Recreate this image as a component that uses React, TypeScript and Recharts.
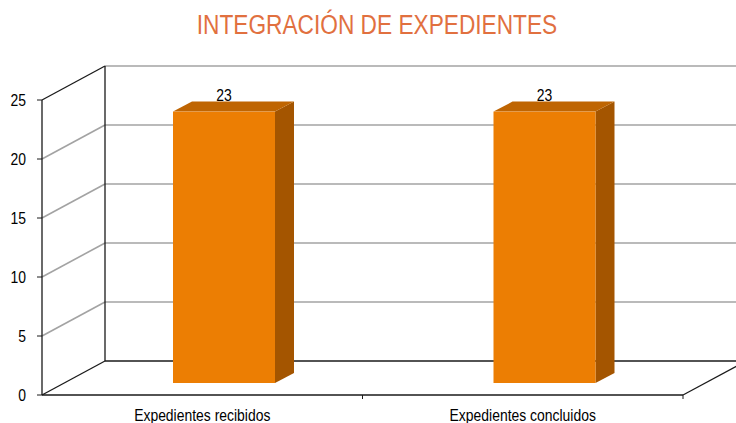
import React from 'react';
import { BarChart, Bar, XAxis, YAxis, CartesianGrid, LabelList } from 'recharts';

const categories = ['Expedientes recibidos', 'Expedientes concluidos'];
const values = [23, 23];
const yTicks = [0, 5, 10, 15, 20, 25];
const title = 'INTEGRACIÓN DE EXPEDIENTES';

const data = categories.map((c, i) => ({ name: c, value: values[i] }));

const W = 736;
const H = 423;
const DX = 63;
const DY = 34;
const BAR_OX = 22;
const BAR_OY = 12;
const BAR_DX = 19;
const BAR_DY = 10;
const FONT = "'Liberation Sans', Arial, sans-serif";
const NARROW_SCALE = 0.82;
const GRAY = '#a3a3a3';
const BLACK = '#1a1a1a';

const gridLine = (props: any) => {
  const { x1, y1, x2, index } = props;
  const top = props.y ?? 100;
  const bottom = (props.y ?? 100) + (props.height ?? 295);
  const isBottom = Math.abs(y1 - bottom) < 1;
  const isTop = Math.abs(y1 - top) < 1;
  const bx = x1 + DX;
  const by = y1 - DY;
  const mid = (x1 + x2) / 2;
  return (
    <g key={`g-${index}-${y1}`}>
      <line x1={bx} y1={by} x2={W + 2} y2={by} stroke={isBottom ? BLACK : GRAY} strokeWidth={isBottom ? 1.3 : 1.6} />
      <line x1={x1} y1={y1} x2={bx} y2={by} stroke={isBottom || isTop ? BLACK : GRAY} strokeWidth={isBottom || isTop ? 1.3 : 1.6} />
      {isTop && <line x1={bx} y1={by} x2={bx} y2={bottom - DY} stroke={BLACK} strokeWidth={1.3} />}
      {isBottom && (
        <g>
          <line x1={x1} y1={y1} x2={x2} y2={y1} stroke={BLACK} strokeWidth={1.3} />
          <line x1={x2} y1={y1} x2={x2 + DX} y2={y1 - DY} stroke={BLACK} strokeWidth={1.3} />
          <line x1={mid} y1={y1} x2={mid} y2={y1 + 4} stroke={BLACK} strokeWidth={1} />
          <line x1={x2} y1={y1} x2={x2} y2={y1 + 4} stroke={BLACK} strokeWidth={1} />
        </g>
      )}
    </g>
  );
};

const Bar3D = (props: any) => {
  const { x, y, width, height } = props;
  const fx = x + BAR_OX;
  const fy = y - BAR_OY;
  const top = `${fx},${fy} ${fx + BAR_DX},${fy - BAR_DY} ${fx + width + BAR_DX},${fy - BAR_DY} ${fx + width},${fy}`;
  const side = `${fx + width},${fy} ${fx + width + BAR_DX},${fy - BAR_DY} ${fx + width + BAR_DX},${fy + height - BAR_DY} ${fx + width},${fy + height}`;
  return (
    <g>
      <polygon points={side} fill="#a45500" />
      <polygon points={top} fill="#bf6502" />
      <rect x={fx} y={fy} width={width} height={height} fill="#ec7e03" />
    </g>
  );
};

const BarLabel = (props: any) => {
  const { x, y, width, value } = props;
  const cx = x + width / 2 + BAR_OX;
  const cy = y - BAR_OY - BAR_DY - 1;
  return (
    <text transform={`translate(${cx},${cy}) scale(${NARROW_SCALE},1)`} x={0} y={0} textAnchor="middle" fontFamily={FONT} fontSize={17} fill="#000">
      {value}
    </text>
  );
};

const YTick = (props: any) => {
  const { x, y, payload } = props;
  return (
    <text transform={`translate(${x},${y}) scale(${NARROW_SCALE},1)`} x={0} y={0} dy="0.355em" textAnchor="end" fontFamily={FONT} fontSize={17} fill="#000">
      {payload.value}
    </text>
  );
};

const XTick = (props: any) => {
  const { x, y, payload } = props;
  return (
    <text transform={`translate(${x},${y}) scale(${NARROW_SCALE},1)`} x={0} y={0} textAnchor="middle" fontFamily={FONT} fontSize={17} fill="#000">
      {payload.value}
    </text>
  );
};

export default function App() {
  return (
    <div style={{ position: 'absolute', left: 0, top: 0, width: W, height: H, background: '#fff', overflow: 'hidden' }}>
      <div
        style={{
          position: 'absolute',
          left: 9,
          top: 12,
          width: W,
          textAlign: 'center',
          fontFamily: FONT,
          fontSize: 27,
          lineHeight: '27px',
          color: '#e1703f',
          whiteSpace: 'nowrap',
          transform: 'scaleX(0.84)',
          transformOrigin: 'center',
        }}
      >
        {title}
      </div>
      <BarChart width={W} height={H} data={data} margin={{ top: 100, right: 53, bottom: 0, left: 0 }}>
        <CartesianGrid horizontal={gridLine} vertical={false} />
        <XAxis
          dataKey="name"
          axisLine={false}
          tickLine={false}
          tickSize={0}
          tickMargin={26}
          height={28}
          interval={0}
          tick={XTick}
        />
        <YAxis
          domain={[0, 25]}
          ticks={yTicks}
          width={42}
          axisLine={{ stroke: BLACK, strokeWidth: 1.3 }}
          tickLine={{ stroke: BLACK }}
          tickSize={5}
          tickMargin={11}
          tick={YTick}
        />
        <Bar dataKey="value" barSize={102} shape={Bar3D} isAnimationActive={false}>
          <LabelList dataKey="value" content={BarLabel} />
        </Bar>
      </BarChart>
    </div>
  );
}
